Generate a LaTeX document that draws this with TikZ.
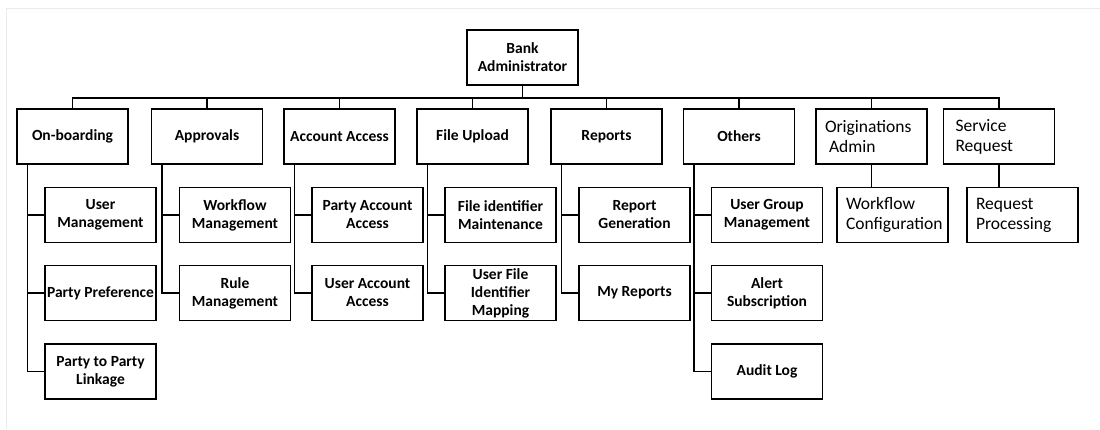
\documentclass[tikz,border=0pt]{standalone}
\usepackage{fontspec}
\setmainfont{Carlito}
\usepackage{tikz}
\usetikzlibrary{positioning}
\definecolor{framegray}{RGB}{235, 235, 235}
\newcommand{\boxfont}{\fontsize{15.5}{18}\selectfont\bfseries}
\newcommand{\plainfont}{\fontsize{17.5}{20}\selectfont}

\begin{document}
\begin{tikzpicture}[x=1pt, y=-1pt,
		box/.style={rectangle, draw=black, fill=white, line width=1.5pt, minimum width=111pt, minimum height=55pt, inner sep=2pt, align=center, font=\boxfont},
		plainbox/.style={box, align=left, text width=93pt, inner xsep=9pt, font=\plainfont},
		link/.style={draw=black, line width=1.5pt}
		]
		\useasboundingbox (0,0) rectangle (1100,429);
		\draw[framegray, line width=1pt] (6,429) -- (6,8) -- (1100,8);
		
		% Root
		\node[box] (root) at (522.5, 57.5) {Bank\\Administrator};
		
		% Level 1: Modules
		\node[box] (onb) at (72.5, 136.5) {On-boarding};
		\node[box] (appr) at (207, 136.5) {Approvals};
		\node[box] (acc) at (339.5, 136.5) {Account Access};
		\node[box] (fup) at (472.5, 136.5) {File Upload};
		\node[box] (rep) at (606.5, 136.5) {Reports};
		\node[box] (oth) at (739, 136.5) {Others};
		\node[plainbox] (orig) at (871.5, 136.5) {Originations\\\hspace*{4pt}Admin};
		\node[plainbox] (srq) at (999, 136.5) {\hspace*{3pt}Service\\\hspace*{3pt}Request};
		
		% Level 2: On-boarding
		\node[box] (usrmgmt) at (100.5, 215) {User\\Management};
		\node[box] (ptypref) at (100.5, 293) {Party Preference};
		\node[box] (ptylink) at (100.5, 371.5) {Party to Party\\Linkage};
		
		% Level 2: Approvals
		\node[box] (wfmgmt) at (235, 215) {Workflow\\Management};
		\node[box] (rulemgmt) at (235, 293) {Rule\\Management};
		
		% Level 2: Account Access
		\node[box] (ptyacc) at (367.5, 215) {Party Account\\Access};
		\node[box] (usracc) at (367.5, 293) {User Account\\Access};
		
		% Level 2: File Upload
		\node[box] (fidmaint) at (500.5, 215) {File identifier\\Maintenance};
		\node[box] (fidmap) at (500.5, 293) {User File\\Identifier\\Mapping};
		
		% Level 2: Reports
		\node[box] (repgen) at (634.5, 215) {Report\\Generation};
		\node[box] (myrep) at (634.5, 293) {My Reports};
		
		% Level 2: Others
		\node[box] (ugmgmt) at (767, 215) {User Group\\Management};
		\node[box] (alert) at (767, 293) {Alert\\Subscription};
		\node[box] (audit) at (767, 371.5) {Audit Log};
		
		% Level 2: Originations Admin and Service Request
		\node[plainbox] (wfconf) at (892.5, 215) {Workflow\\Configuration};
		\node[plainbox] (reqproc) at (1022.5, 215) {Request\\Processing};
		
		% Bus from root
		\draw[link] (root.south) -- ++(0,12) -| (onb.north);
		\draw[link] (root.south) -- ++(0,12) -| (appr.north);
		\draw[link] (root.south) -- ++(0,12) -| (acc.north);
		\draw[link] (root.south) -- ++(0,12) -| (fup.north);
		\draw[link] (root.south) -- ++(0,12) -| (rep.north);
		\draw[link] (root.south) -- ++(0,12) -| (oth.north);
		\draw[link] (root.south) -- ++(0,12) -| (orig.north);
		\draw[link] (root.south) -- ++(0,12) -| (srq.north);
		
		% Child links
		\draw[link] (onb.south west) ++(11,0) |- (usrmgmt.west);
		\draw[link] (onb.south west) ++(11,0) |- (ptypref.west);
		\draw[link] (onb.south west) ++(11,0) |- (ptylink.west);
		
		\draw[link] (appr.south west) ++(11,0) |- (wfmgmt.west);
		\draw[link] (appr.south west) ++(11,0) |- (rulemgmt.west);
		
		\draw[link] (acc.south west) ++(11,0) |- (ptyacc.west);
		\draw[link] (acc.south west) ++(11,0) |- (usracc.west);
		
		\draw[link] (fup.south west) ++(11,0) |- (fidmaint.west);
		\draw[link] (fup.south west) ++(11,0) |- (fidmap.west);
		
		\draw[link] (rep.south west) ++(11,0) |- (repgen.west);
		\draw[link] (rep.south west) ++(11,0) |- (myrep.west);
		
		\draw[link] (oth.south west) ++(11,0) |- (ugmgmt.west);
		\draw[link] (oth.south west) ++(11,0) |- (alert.west);
		\draw[link] (oth.south west) ++(11,0) |- (audit.west);
		
		\draw[link] (orig.south) -- (orig.south |- wfconf.north);
		\draw[link] (srq.south) -- (srq.south |- reqproc.north);
\end{tikzpicture}
\end{document}
